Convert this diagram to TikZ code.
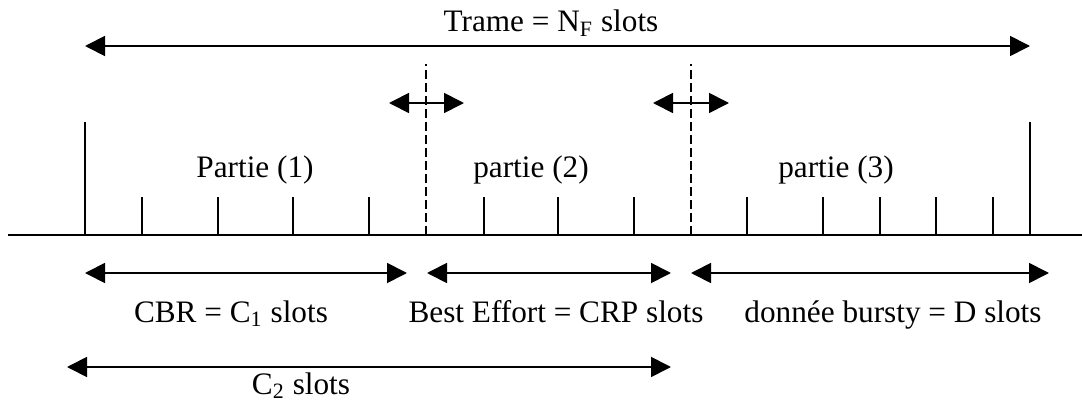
\documentclass[tikz,border=0pt]{standalone}
\usepackage{fontspec}
\setmainfont{Liberation Serif}
\usetikzlibrary{arrows.meta, positioning}

\tikzset{
    dbl/.style={{Triangle[length=8pt,width=8pt]}-{Triangle[length=8pt,width=8pt]}},
    lbl/.style={anchor=base, inner sep=0pt, font=\fontsize{12.5}{15}\selectfont},
    sep/.style={dash pattern=on 3.5pt off 1.7pt}
}

\begin{document}
\begin{tikzpicture}[x=0.4pt, y=-0.4pt, line width=0.7pt]
    \useasboundingbox (0,0) rectangle (1082,400);

    % Time axis
    \coordinate (axL) at (8,235);
    \coordinate (axR) at (1082,235);
    \draw (axL) -- (axR);

    % Frame limits
    \coordinate (fL) at (85,235);
    \coordinate (fLt) at (85,122);
    \coordinate (fR) at (1030,235);
    \coordinate (fRt) at (1030,122);
    \draw (fL) -- (fLt);
    \draw (fR) -- (fRt);

    % Slot ticks
    \foreach \x in {142,218,293,369,484,558,634,747,823,880,936,993}
        \draw (\x,235) -- (\x,197);

    % Movable boundaries
    \coordinate (b1) at (426,235);
    \coordinate (b1t) at (426,64);
    \coordinate (b2) at (691,235);
    \coordinate (b2t) at (691,64);
    \draw[sep] (b1) -- (b1t);
    \draw[sep] (b2) -- (b2t);
    \coordinate (m1L) at (389,103);
    \coordinate (m1R) at (464,103);
    \coordinate (m2L) at (653,103);
    \coordinate (m2R) at (729,103);
    \draw[dbl] (m1L) -- (m1R);
    \draw[dbl] (m2L) -- (m2R);

    % Frame arrow
    \coordinate (tL) at (85,46);
    \coordinate (tR) at (1030,46);
    \draw[dbl] (tL) -- (tR);
    \node[lbl] (trame) at (551,32) {Trame = N\textsubscript{F} slots};

    % Parts
    \node[lbl] (p1) at (255,177) {Partie (1)};
    \node[lbl] (p2) at (531,177) {partie (2)};
    \node[lbl] (p3) at (836,177) {partie (3)};

    % Part lengths
    \coordinate (cbrL) at (85,273);
    \coordinate (cbrR) at (407,273);
    \coordinate (beL) at (427,273);
    \coordinate (beR) at (671,273);
    \coordinate (dL) at (691,273);
    \coordinate (dR) at (1049,273);
    \draw[dbl] (cbrL) -- (cbrR);
    \draw[dbl] (beL) -- (beR);
    \draw[dbl] (dL) -- (dR);
    \node[lbl] (cbr) at (231,322) {CBR = C\textsubscript{1} slots};
    \node[lbl] (be) at (556,322) {Best Effort = CRP slots};
    \node[lbl] (bursty) at (893,322) {donnée bursty = D slots};

    % C2 span
    \coordinate (c2L) at (67,367);
    \coordinate (c2R) at (671,367);
    \draw[dbl] (c2L) -- (c2R);
    \node[lbl] (c2) at (301,394) {C\textsubscript{2} slots};
\end{tikzpicture}
\end{document}
